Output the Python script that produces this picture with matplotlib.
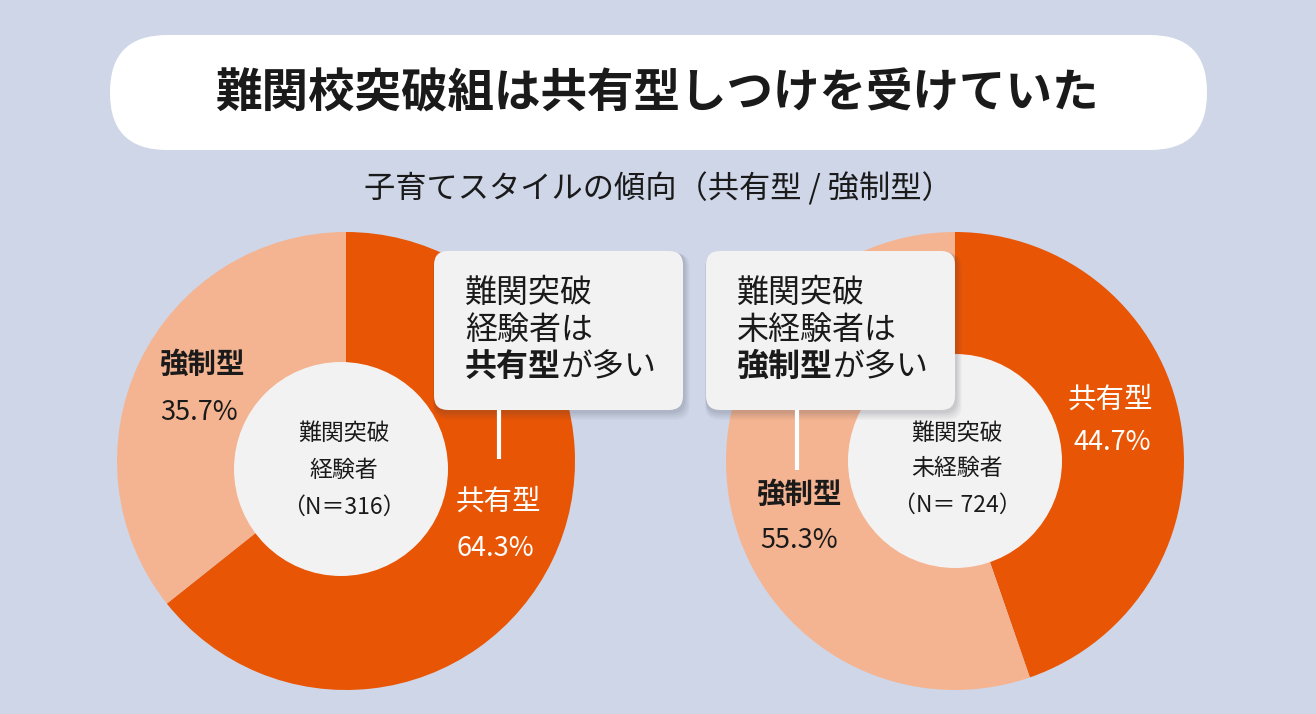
import matplotlib
matplotlib.use("Agg")
import matplotlib.pyplot as plt
from matplotlib.patches import FancyBboxPatch, Circle

plt.rcParams['font.family'] = ['Noto Sans CJK JP', 'DejaVu Sans']

# data
title = "難関校突破組は共有型しつけを受けていた"
subtitle = "子育てスタイルの傾向（共有型 / 強制型）"
groups = ["難関突破\n経験者", "難関突破\n未経験者"]
n_labels = ["（N＝316）", "（N＝ 724）"]
styles = ["共有型", "強制型"]
kyoyu_pct = [64.3, 44.7]
kyosei_pct = [35.7, 55.3]
callout_top = ["難関突破", "難関突破"]
callout_mid = ["経験者は", "未経験者は"]
callout_bold = ["共有型", "強制型"]
callout_tail = "が多い"

W, H = 1316, 714
BG = "#cfd6e8"
DARK = "#e85505"
LIGHT = "#f5b491"
PANEL = "#f2f2f2"
INK = "#1a1a1a"

fig = plt.figure(figsize=(W / 100, H / 100), dpi=100)
fig.patch.set_facecolor(BG)
ax = fig.add_axes([0, 0, 1, 1])


def Y(y):
    # image rows (top down) -> data y
    return H - y


# title pill
ax.add_patch(FancyBboxPatch((110, Y(150)), 1097, 115,
                            boxstyle="round,pad=0,rounding_size=57",
                            fc="white", ec="none", zorder=1))
ax.text(658, Y(94), title, ha="center", va="center", fontsize=33.5,
        fontweight="bold", color=INK, zorder=2)
ax.text(658, Y(189), subtitle, ha="center", va="center", fontsize=22.5,
        color=INK, zorder=2)

# donuts
centers = [(346, 461), (955, 461)]
inner_centers = [(341, 469), (955, 461)]
R_OUT, R_IN = 229, 107
for i in range(2):
    cx, cy = centers[i]
    ax.pie([kyoyu_pct[i], kyosei_pct[i]], colors=[DARK, LIGHT], startangle=90,
           counterclock=False, radius=R_OUT, center=(cx, Y(cy)),
           wedgeprops=dict(linewidth=0), frame=True)
    ix, iy = inner_centers[i]
    ax.add_patch(Circle((ix, Y(iy)), R_IN, fc=PANEL, ec="none", zorder=3))

# centre labels
center_text_pos = [(344, [433, 470, 507]), (957, [433, 468, 505])]
for i in range(2):
    x, ys = center_text_pos[i]
    lines = groups[i].split("\n") + [n_labels[i]]
    for line, y in zip(lines, ys):
        ax.text(x, Y(y), line, ha="center", va="center", fontsize=16.5,
                color=INK, zorder=4)

# slice labels
kyoyu_pos = [((498, 502), (495, 548)), ((1110, 400), (1112, 443))]
kyosei_pos = [((203, 365), (199, 412)), ((800, 495), (799, 541))]
for i in range(2):
    (lx, ly), (px, py) = kyoyu_pos[i]
    ax.text(lx, Y(ly), styles[0], ha="center", va="center", fontsize=20.5,
            color="white", zorder=4)
    ax.text(px, Y(py), f"{kyoyu_pct[i]:.1f}%", ha="center", va="center",
            fontsize=19.5, color="white", zorder=4)
    (lx, ly), (px, py) = kyosei_pos[i]
    ax.text(lx, Y(ly), styles[1], ha="center", va="center", fontsize=20.5,
            fontweight="bold", color=INK, zorder=4)
    ax.text(px, Y(py), f"{kyosei_pct[i]:.1f}%", ha="center", va="center",
            fontsize=19.5, color=INK, zorder=4)

# callout boxes
box_x = [434, 706]
text_x = [465, 737]
line_x = [499, 797]
line_end = [459, 470]
bw, bh, btop = 249, 159, 251
for i in range(2):
    x0 = box_x[i]
    # soft shadow
    for k, a in enumerate([0.05, 0.05, 0.06, 0.07]):
        off = 6 - k * 1.3
        ax.add_patch(FancyBboxPatch((x0 + off * 0.5, Y(btop + bh) - off), bw, bh,
                                    boxstyle="round,pad=%.1f,rounding_size=14" % (off * 0.6),
                                    fc="#3a4050", ec="none", alpha=a, zorder=5))
    ax.add_patch(FancyBboxPatch((x0, Y(btop + bh)), bw, bh,
                                boxstyle="round,pad=0,rounding_size=14",
                                fc=PANEL, ec="none", zorder=6))
    ax.plot([line_x[i], line_x[i]], [Y(btop + bh), Y(line_end[i])],
            color="white", lw=3, solid_capstyle="butt", zorder=6)
    tx = text_x[i]
    ax.text(tx, Y(293), callout_top[i], ha="left", va="center", fontsize=23,
            color=INK, zorder=7)
    ax.text(tx, Y(330), callout_mid[i], ha="left", va="center", fontsize=23,
            color=INK, zorder=7)
    b = ax.text(tx, Y(367), callout_bold[i], ha="left", va="center", fontsize=23,
                fontweight="bold", color=INK, zorder=7)
    ax.annotate(callout_tail, xy=(1, 0.5), xycoords=b, ha="left", va="center",
                fontsize=23, color=INK, zorder=7)

ax.set_xlim(0, W)
ax.set_ylim(0, H)
ax.set_aspect("auto")
ax.axis("off")

fig.savefig("out.png", dpi=100, facecolor=BG)
